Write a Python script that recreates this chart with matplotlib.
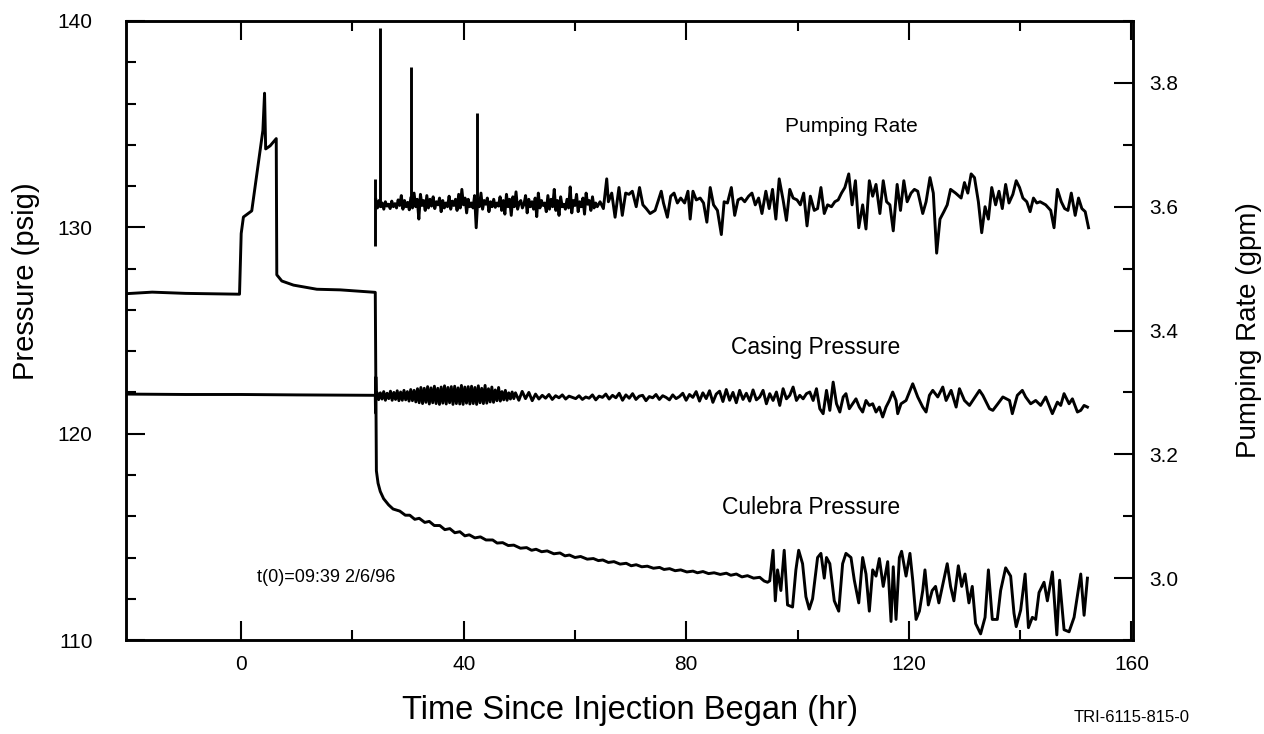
import numpy as np
import matplotlib
matplotlib.use("Agg")
import matplotlib.pyplot as plt
from matplotlib.ticker import MultipleLocator, FixedLocator

plt.rcParams['font.family'] = ['Liberation Sans', 'DejaVu Sans']

# ---------------- data ----------------
# Culebra pressure (psig): pre-injection, injection, shut-in
cul_early_t = [-21, -16, -10, -5, -0.3, 0.0, 0.4, 1.9, 3.9, 4.2, 4.4, 5.2, 6.3, 6.4, 7.3, 9.4, 13.6, 17.8, 24.1]
cul_early_v = [126.78, 126.86, 126.80, 126.78, 126.76, 129.7, 130.5, 130.8, 134.7, 136.5, 133.8, 133.95, 134.3,
               127.7, 127.4, 127.2, 127.0, 126.97, 126.85]

cul_decay_t = [24.3, 24.6, 25.0, 25.6, 26.5, 27.3, 28.5, 29.5, 30.3, 31.2, 32.0, 33.0, 33.8, 34.7, 35.7, 36.6,
               37.5, 38.4, 39.3, 40.2, 41.0, 42.0, 43.0, 44.0, 45.2, 46.0, 47.0, 48.0, 49.0, 50.2, 51.3, 52.2,
               53.0, 54.0, 55.0, 56.2, 57.3, 58.2, 59.0, 60.0, 61.0, 62.2, 63.3, 64.2, 65.0, 66.0, 67.0, 68.1,
               69.2, 70.1, 71.0, 72.0, 73.0, 74.1, 75.2, 76.0, 77.0, 78.0, 79.0, 80.1, 81.2, 82.0, 83.0, 84.0,
               85.0, 86.1, 87.2, 88.0, 89.0, 90.0, 91.0, 92.1, 93.2, 94.0, 94.6]
cul_decay_v = [118.2, 117.6, 117.2, 116.85, 116.55, 116.35, 116.25, 116.05, 116.05, 115.85, 115.9, 115.7,
               115.75, 115.55, 115.55, 115.35, 115.4, 115.2, 115.25, 115.05, 115.1, 114.95, 115.0, 114.85,
               114.85, 114.7, 114.72, 114.58, 114.6, 114.45, 114.48, 114.35, 114.4, 114.28, 114.32, 114.18,
               114.22, 114.08, 114.12, 114.0, 114.05, 113.92, 113.95, 113.85, 113.88, 113.76, 113.8, 113.68,
               113.72, 113.6, 113.65, 113.55, 113.58, 113.48, 113.52, 113.42, 113.46, 113.36, 113.4, 113.3,
               113.34, 113.26, 113.32, 113.22, 113.26, 113.18, 113.24, 113.14, 113.2, 113.06, 113.12, 113.0,
               113.04, 112.86, 112.8]

cul_osc_t = [95.0, 95.6, 96.0, 96.4, 97.0, 97.6, 98.2, 99.1, 99.7, 100.2, 100.9, 101.5, 102.1, 102.7, 103.6,
             104.2, 104.8, 105.2, 105.8, 106.6, 107.4, 108.1, 108.7, 109.6, 110.2, 111.0, 111.7, 112.3, 112.9,
             113.5, 114.1, 114.7, 115.4, 116.2, 116.8, 117.2, 117.7, 118.3, 118.7, 119.5, 120.2, 120.7, 121.3,
             121.9, 122.5, 122.9, 123.5, 124.2, 124.8, 125.4, 126.2, 126.9, 127.5, 128.1, 128.9, 129.5, 130.1,
             130.8, 131.4, 132.0, 132.9, 133.7, 134.3, 135.0, 135.9, 136.5, 137.4, 138.3, 138.9, 139.3, 140.1,
             140.9, 141.5, 142.2, 142.8, 143.4, 144.3, 144.9, 145.8, 146.6, 147.1, 147.9, 148.8, 149.7, 150.9,
             151.5, 152.1]
cul_osc_v = [112.87, 114.35, 111.9, 113.4, 112.4, 114.35, 111.7, 111.6, 113.4, 114.35, 113.7, 112.1, 111.5,
             112.0, 114.0, 114.2, 113.0, 114.0, 113.7, 111.9, 111.4, 113.7, 114.2, 114.0, 112.9, 111.8, 114.0,
             113.2, 111.4, 113.4, 113.1, 113.95, 112.6, 113.8, 110.9, 113.55, 111.0, 114.0, 114.3, 113.1,
             114.2, 112.9, 111.0, 111.4, 112.4, 113.4, 111.7, 112.4, 112.6, 111.8, 112.8, 113.7, 112.6, 111.9,
             113.6, 112.6, 113.2, 111.8, 112.6, 110.8, 110.3, 111.1, 113.4, 111.0, 111.0, 112.4, 113.5, 113.1,
             111.3, 110.65, 111.45, 113.2, 110.6, 111.1, 111.0, 112.3, 112.8, 111.9, 113.3, 110.25, 112.9,
             110.5, 110.4, 111.1, 113.2, 111.2, 113.0]

# Casing pressure (psig)
cas_pre_t = [-21, -10, 0, 10, 24.1, 24.15, 24.2, 24.3]
cas_pre_v = [121.92, 121.90, 121.90, 121.88, 121.86, 121.0, 122.75, 121.7]

cas_dense_v = [122.00, 121.65, 121.98, 121.68, 122.04, 121.62, 121.96, 121.70, 122.06, 121.62, 122.00, 121.66,
               122.08, 121.60, 122.02, 121.62, 122.10, 121.64, 122.04, 121.58, 122.14, 121.60, 122.10, 121.54,
               122.18, 121.50, 122.24, 121.46, 122.20, 121.52, 122.28, 121.44, 122.22, 121.50, 122.30, 121.46,
               122.20, 121.42, 122.26, 121.48, 122.32, 121.44, 122.24, 121.50, 122.28, 121.42, 122.30, 121.46,
               122.22, 121.44, 122.34, 121.42, 122.26, 121.48, 122.28, 121.44, 122.30, 121.46, 122.24, 121.42,
               122.32, 121.50, 122.20, 121.46, 122.34, 121.48, 122.18, 121.54, 122.26, 121.52, 122.12, 121.60,
               122.24, 121.58, 122.04, 121.64, 122.10, 121.62, 121.98, 121.68, 122.02, 121.70]
cas_dense_span = (24.4, 49.0)

cas_mid_v = [121.98, 121.62, 122.05, 121.70, 122.00, 121.60, 121.92, 121.68, 121.86, 121.72, 121.90, 121.66,
             121.84, 121.74, 121.88, 121.68, 121.82, 121.76, 121.70, 121.84, 121.66, 121.78, 121.72, 121.88,
             121.64, 121.82, 121.76, 121.92, 121.68, 121.86, 121.74, 121.96, 121.62, 121.88, 121.72, 121.94,
             121.66, 121.82, 121.86, 121.60, 121.80, 121.74, 121.90, 121.66, 121.84, 121.76, 121.64, 121.88,
             121.70, 121.80, 121.96, 121.62, 121.90, 121.76, 122.04, 121.58, 121.98, 121.70, 122.08, 121.52,
             121.92, 122.06, 121.56, 122.14, 121.62, 122.00, 121.50, 122.10, 121.66, 121.96, 121.58, 122.12,
             121.64]
cas_mid_span = (49.3, 92.6)

cas_late_t = [93.2, 93.8, 94.4, 95.0, 95.6, 96.2, 96.8, 97.4, 98.0, 98.6, 99.2, 99.8, 100.4, 101.0, 101.6,
              102.2, 102.8, 103.4, 104.0, 104.6, 105.2, 105.8, 106.4, 107.0, 107.6, 108.2, 108.7, 109.3,
              109.9, 110.5, 111.1, 111.7, 112.3, 112.9, 113.5, 114.1, 114.7, 115.3, 115.9, 116.5, 117.1,
              117.7, 118.0, 118.6, 119.5, 120.7, 121.6, 122.5, 123.1, 123.7, 124.3, 125.2, 126.1, 126.7,
              127.6, 128.5, 129.1, 130.0, 130.9, 132.1, 132.7, 133.3, 134.5, 135.1, 136.0, 136.9, 138.1,
              138.6, 139.5, 140.4, 141.0, 141.9, 142.8, 143.7, 144.6, 145.8, 146.7, 147.3, 147.9, 148.8,
              149.4, 150.3, 150.9, 151.5, 152.1]
cas_late_v = [121.78, 122.10, 121.45, 121.94, 121.61, 122.02, 121.37, 122.18, 121.69, 121.86, 122.26, 121.61,
              121.86, 121.69, 121.94, 122.02, 121.61, 122.18, 121.21, 120.97, 122.10, 121.13, 122.50, 121.45,
              121.05, 121.78, 121.94, 121.21, 121.45, 121.69, 121.29, 121.05, 121.61, 121.37, 121.45, 121.05,
              121.29, 120.81, 121.29, 121.61, 122.02, 121.61, 120.97, 121.45, 121.61, 122.42, 121.78, 121.29,
              121.05, 121.86, 122.10, 121.78, 122.26, 121.61, 122.10, 121.29, 122.18, 121.61, 121.37, 121.86,
              122.10, 121.86, 121.21, 121.13, 121.45, 121.78, 121.61, 120.97, 121.86, 122.10, 121.78, 121.45,
              121.61, 121.37, 121.78, 120.97, 121.53, 121.37, 121.94, 121.45, 121.69, 121.05, 121.13, 121.37,
              121.29]

# Pumping rate (gpm)
pump_spike_t = [24.05, 24.95, 30.6, 42.3]
pump_spike_lo = [3.537, 3.600, 3.600, 3.600]
pump_spike_hi = [3.644, 3.889, 3.825, 3.752]

pump_dense_v = [3.612, 3.598, 3.610, 3.600, 3.606, 3.596, 3.608, 3.601, 3.604, 3.597, 3.609, 3.600, 3.605, 3.598,
                3.611, 3.602, 3.618, 3.596, 3.610, 3.600,
                3.607, 3.595, 3.615, 3.598, 3.622, 3.600, 3.612, 3.580, 3.620, 3.602, 3.610, 3.594, 3.618, 3.598,
                3.612, 3.601, 3.616, 3.597, 3.608, 3.603,
                3.614, 3.592, 3.610, 3.598, 3.606, 3.600, 3.617, 3.596, 3.609, 3.602, 3.612, 3.594, 3.620, 3.598,
                3.628, 3.603, 3.614, 3.590, 3.612, 3.600,
                3.606, 3.598, 3.618, 3.566, 3.612, 3.600, 3.622, 3.596, 3.610, 3.604, 3.614, 3.592, 3.608, 3.600,
                3.612, 3.599, 3.606, 3.601, 3.616, 3.594,
                3.610, 3.588, 3.620, 3.600, 3.612, 3.586, 3.616, 3.600, 3.624, 3.596, 3.606, 3.610, 3.598, 3.604,
                3.618, 3.590, 3.612, 3.600, 3.608, 3.596,
                3.614, 3.584, 3.622, 3.598, 3.610, 3.602, 3.606, 3.592, 3.618, 3.596, 3.612, 3.600, 3.628, 3.594,
                3.610, 3.586, 3.616, 3.600, 3.604, 3.596,
                3.612, 3.598, 3.632, 3.590, 3.610, 3.602, 3.620, 3.592, 3.608, 3.600, 3.614, 3.588, 3.622, 3.604,
                3.610, 3.594, 3.616, 3.598, 3.606, 3.600]
pump_dense_span = (24.2, 64.0)

pump_late_t = [64.5, 65.1, 65.7, 66.0, 66.6, 67.2, 67.9, 68.5, 69.1, 69.7, 70.3, 71.0, 71.6, 72.2, 72.8, 73.5,
               74.4, 75.0, 75.5, 75.9, 76.6, 77.2, 77.8, 78.4, 79.0, 79.7, 80.3, 80.7, 81.2, 81.8, 82.5, 83.1,
               83.7, 84.3, 84.9, 85.6, 86.3, 86.8, 87.4, 88.1, 88.7, 89.3, 89.9, 90.5, 91.2, 91.8, 92.4, 93.0,
               93.6, 94.3, 94.9, 95.5, 96.1, 96.7, 97.4, 98.0, 98.6, 99.2, 99.9, 100.5, 101.1, 101.7, 102.3,
               103.0, 103.6, 104.2, 104.8, 105.4, 106.1, 106.7, 107.3, 107.9, 108.5, 109.2, 109.8, 110.4, 111.0,
               111.7, 112.3, 112.9, 113.5, 114.1, 114.8, 115.4, 116.0, 116.6, 117.2, 117.9, 118.5, 119.1, 119.7,
               120.4, 121.0, 121.6, 122.5, 123.1, 123.8, 124.4, 125.0, 125.6, 126.3, 126.9, 127.5, 128.4, 129.4,
               130.0, 130.6, 131.2, 131.8, 132.5, 133.1, 133.7, 134.3, 134.9, 135.6, 136.2, 136.8, 137.4, 138.0,
               138.7, 139.3, 139.9, 140.5, 141.2, 141.8, 142.4, 143.0, 143.6, 144.6, 145.5, 146.1, 146.7, 147.4,
               148.0, 148.6, 149.2, 149.9, 150.5, 151.1, 151.7, 152.3]
pump_late_v = [3.608, 3.597, 3.645, 3.608, 3.622, 3.583, 3.631, 3.586, 3.622, 3.620, 3.625, 3.600, 3.631, 3.603,
               3.597, 3.589, 3.594, 3.611, 3.625, 3.606, 3.583, 3.617, 3.622, 3.606, 3.614, 3.606, 3.625, 3.580,
               3.625, 3.611, 3.614, 3.606, 3.575, 3.631, 3.603, 3.594, 3.555, 3.608, 3.606, 3.631, 3.586, 3.611,
               3.614, 3.608, 3.617, 3.622, 3.603, 3.614, 3.589, 3.625, 3.597, 3.628, 3.580, 3.645, 3.611, 3.578,
               3.628, 3.614, 3.611, 3.603, 3.622, 3.569, 3.617, 3.594, 3.597, 3.631, 3.589, 3.603, 3.600, 3.608,
               3.611, 3.622, 3.631, 3.653, 3.603, 3.642, 3.566, 3.603, 3.564, 3.642, 3.617, 3.636, 3.589, 3.642,
               3.608, 3.603, 3.561, 3.636, 3.594, 3.642, 3.608, 3.622, 3.628, 3.625, 3.589, 3.608, 3.647, 3.622,
               3.525, 3.580, 3.592, 3.603, 3.628, 3.622, 3.614, 3.639, 3.622, 3.653, 3.647, 3.608, 3.558, 3.600,
               3.580, 3.631, 3.603, 3.625, 3.597, 3.636, 3.606, 3.620, 3.642, 3.631, 3.614, 3.608, 3.592, 3.614,
               3.606, 3.608, 3.603, 3.594, 3.566, 3.628, 3.608, 3.597, 3.594, 3.622, 3.586, 3.614, 3.597, 3.592,
               3.566]

# annotations
labels = ["Pumping Rate", "Casing Pressure", "Culebra Pressure", "t(0)=09:39 2/6/96"]
label_x = [109.6, 103.2, 102.5, 15.3]
label_y = [134.9, 124.2, 116.4, 113.05]

x_minor_ticks = [20, 60, 100, 140]

# ---------------- figure ----------------
fig = plt.figure(figsize=(12.64, 7.34), dpi=100)
ax = fig.add_axes([0.0997, 0.128, 0.7967, 0.8434])
ax2 = ax.twinx()

lw = 2.1
col = 'black'
cul_t = cul_early_t + cul_decay_t + cul_osc_t
cul_v = cul_early_v + cul_decay_v + cul_osc_v
ax.plot(cul_t, cul_v, color=col, lw=lw)

cas_t = (cas_pre_t + list(np.linspace(cas_dense_span[0], cas_dense_span[1], len(cas_dense_v)))
         + list(np.linspace(cas_mid_span[0], cas_mid_span[1], len(cas_mid_v))) + cas_late_t)
cas_v = cas_pre_v + cas_dense_v + cas_mid_v + cas_late_v
ax.plot(cas_t, cas_v, color=col, lw=lw)

pump_t = list(np.linspace(pump_dense_span[0], pump_dense_span[1], len(pump_dense_v))) + pump_late_t
pump_v = pump_dense_v + pump_late_v
ax2.plot(pump_t, pump_v, color=col, lw=lw)
ax2.vlines(pump_spike_t, pump_spike_lo, pump_spike_hi, color=col, lw=lw)

ax.set_xlim(-20.7, 160.3)
ax.set_ylim(110, 140)
ax2.set_ylim(2.9, 3.9)

ax.xaxis.set_major_locator(MultipleLocator(40))
ax.xaxis.set_minor_locator(FixedLocator(x_minor_ticks))
ax.yaxis.set_major_locator(MultipleLocator(10))
ax.yaxis.set_minor_locator(MultipleLocator(2))
ax2.yaxis.set_major_locator(MultipleLocator(0.2))
ax2.yaxis.set_minor_locator(MultipleLocator(0.1))
ax2.yaxis.set_major_formatter(plt.FormatStrFormatter('%.1f'))

tick_fs = 15
ax.tick_params(axis='x', which='both', direction='in', top=True, bottom=True, width=1.5, labelsize=tick_fs, pad=11)
ax.tick_params(axis='x', which='major', length=14)
ax.tick_params(axis='x', which='minor', length=7)
ax.tick_params(axis='y', which='both', direction='in', left=True, right=False, width=1.5, labelsize=tick_fs, pad=24)
ax.tick_params(axis='y', which='major', length=14)
ax.tick_params(axis='y', which='minor', length=7)
ax2.tick_params(axis='y', which='both', direction='in', width=1.5, labelsize=tick_fs, pad=12)
ax2.tick_params(axis='y', which='major', length=14)
ax2.tick_params(axis='y', which='minor', length=7)

for a in (ax, ax2):
    for s in a.spines.values():
        s.set_linewidth(1.8)

ax.set_xlabel("Time Since Injection Began (hr)", fontsize=23.5)
ax.set_ylabel("Pressure (psig)", fontsize=21)
ax2.set_ylabel("Pumping Rate (gpm)", fontsize=20)
ax.xaxis.set_label_coords(0.5, -0.088)
ax.yaxis.set_label_coords(-0.085, 0.58)
ax2.yaxis.set_label_coords(1.102, 0.5)

fs_ann = [15, 16.5, 16.5, 13]
for txt, tx, ty, fs in zip(labels, label_x, label_y, fs_ann):
    ax.text(tx, ty, txt, fontsize=fs, ha='center', va='center')

fig.text(0.8955, 0.023, "TRI-6115-815-0", fontsize=12, ha='center', va='center',
         family=['Liberation Sans Narrow', 'Liberation Sans', 'DejaVu Sans'])

fig.savefig("out.png", dpi=100)
